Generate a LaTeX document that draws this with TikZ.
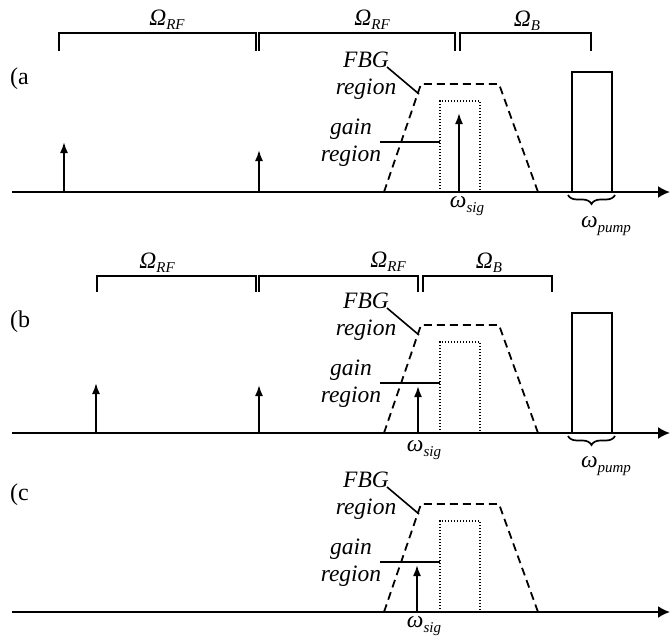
\documentclass[tikz,border=0pt]{standalone}
\usepackage{fontspec}
\setmainfont{Liberation Serif}
\usetikzlibrary{arrows.meta,decorations.pathreplacing}
\newcommand{\mysub}[1]{\raisebox{-0.4ex}{\fontsize{15}{15}\selectfont #1}}
\begin{document}
\begin{tikzpicture}[x=1pt,y=-1pt,
  axisline/.style={line width=2pt,-{Latex[length=12pt,width=12pt]}},
  sigarrow/.style={line width=1.8pt,-{Latex[length=11pt,width=8pt]}},
  bracketline/.style={line width=1.7pt},
  fbgline/.style={line width=1.8pt,dash pattern=on 8pt off 5pt},
  gainline/.style={line width=1.5pt,dash pattern=on 1.4pt off 1.6pt},
  leader/.style={line width=1.6pt},
  pumpbox/.style={line width=1.9pt},
  bracebox/.style={line width=1.7pt,decorate,decoration={brace,mirror,amplitude=9pt}},
  lbl/.style={font=\fontsize{23.5}{27}\selectfont\itshape, inner sep=0pt, align=center},
  panellbl/.style={font=\fontsize{24}{24}\selectfont, inner sep=0pt, anchor=west}]
\useasboundingbox (0,0) rectangle (670,638);

% ---------- common FBG / gain groups ----------
\foreach \dy/\p in {0/a,241/b,420/c}{
  \begin{scope}[shift={(0,\dy)}]
    \coordinate (axL\p) at (12,192);
    \coordinate (axR\p) at (670,192);
    \draw[axisline] (axL\p) -- (axR\p);
    \coordinate (t1\p) at (384,192);
    \coordinate (t2\p) at (421,84);
    \coordinate (t3\p) at (499,84);
    \coordinate (t4\p) at (538,192);
    \draw[fbgline] (t1\p) -- (t2\p) -- (t3\p) -- (t4\p) -- cycle;
    \coordinate (g1\p) at (440,192);
    \coordinate (g2\p) at (480,101);
    \draw[gainline] (g1\p) rectangle (g2\p);
    \node[lbl] (fbg\p) at (366,76) {FBG\\region};
    \node[lbl] (gain\p) at (351,143) {gain\\region};
    \coordinate (fbgS\p) at (387,67);
    \coordinate (fbgT\p) at (419,94);
    \draw[leader] (fbgS\p) -- (fbgT\p);
    \coordinate (gS\p) at (380,142);
    \coordinate (gT\p) at (440,142);
    \draw[leader] (gS\p) -- (gT\p);
  \end{scope}
}

% ---------- panel labels ----------
\node[panellbl] (pa) at (10,79) {(a};
\node[panellbl] (pb) at (10,322) {(b};
\node[panellbl] (pc) at (10,495) {(c};

% ---------- panel (a) ----------
\draw[bracketline] (59,51) -- (59,33) -- (256,33) -- (256,51);
\draw[bracketline] (259,51) -- (259,33) -- (455,33) -- (455,51);
\draw[bracketline] (460,51) -- (460,33) -- (591,33) -- (591,51);
\node[lbl] (orfa1) at (167,20) {Ω\mysub{RF}};
\node[lbl] (orfa2) at (372,20) {Ω\mysub{RF}};
\node[lbl] (oba) at (527,21) {Ω\mysub{B}};
\coordinate (a1b) at (64,192); \coordinate (a1t) at (64,142);
\coordinate (a2b) at (259,192); \coordinate (a2t) at (259,150);
\draw[sigarrow] (a1b) -- (a1t);
\draw[sigarrow] (a2b) -- (a2t);
\coordinate (sab) at (459,192); \coordinate (sat) at (459,113);
\draw[sigarrow] (sab) -- (sat);
\node[lbl] (wsa) at (467,206) {ω\mysub{sig}};
\coordinate (pa1) at (572,192); \coordinate (pa2) at (612,72);
\draw[pumpbox] (pa1) rectangle (pa2);
\coordinate (bra1) at (568,195); \coordinate (bra2) at (615,195);
\draw[bracebox] (bra1) -- (bra2);
\node[lbl] (wpa) at (606,226) {ω\mysub{pump}};

% ---------- panel (b) ----------
\draw[bracketline] (97,292) -- (97,276) -- (256,276) -- (256,292);
\draw[bracketline] (259,292) -- (259,276) -- (418,276) -- (418,292);
\draw[bracketline] (423,292) -- (423,276) -- (552,276) -- (552,292);
\node[lbl] (orfb1) at (157,263) {Ω\mysub{RF}};
\node[lbl] (orfb2) at (388,262) {Ω\mysub{RF}};
\node[lbl] (obb) at (489,263) {Ω\mysub{B}};
\coordinate (b1b) at (96,433); \coordinate (b1t) at (96,383);
\coordinate (b2b) at (259,433); \coordinate (b2t) at (259,385);
\draw[sigarrow] (b1b) -- (b1t);
\draw[sigarrow] (b2b) -- (b2t);
\coordinate (sbb) at (418,433); \coordinate (sbt) at (418,386);
\draw[sigarrow] (sbb) -- (sbt);
\node[lbl] (wsb) at (424,450) {ω\mysub{sig}};
\coordinate (pb1) at (572,433); \coordinate (pb2) at (612,313);
\draw[pumpbox] (pb1) rectangle (pb2);
\coordinate (brb1) at (568,436); \coordinate (brb2) at (615,436);
\draw[bracebox] (brb1) -- (brb2);
\node[lbl] (wpb) at (606,466) {ω\mysub{pump}};

% ---------- panel (c) ----------
\coordinate (scb) at (417,612); \coordinate (sct) at (417,565);
\draw[sigarrow] (scb) -- (sct);
\node[lbl] (wsc) at (424,626) {ω\mysub{sig}};
\end{tikzpicture}
\end{document}
